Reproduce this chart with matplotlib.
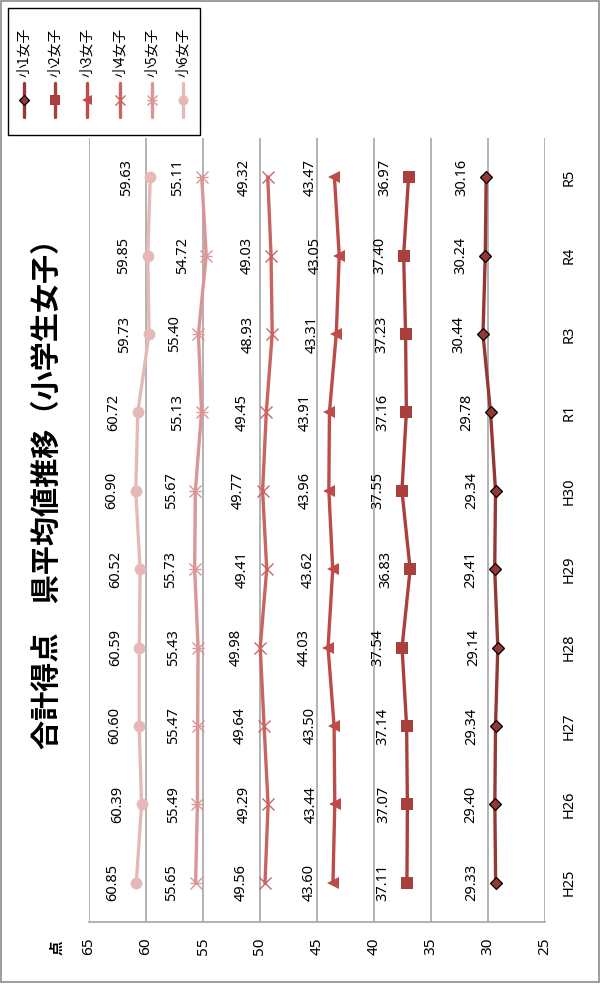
import matplotlib
matplotlib.use("Agg")
import matplotlib.pyplot as plt
from matplotlib.patches import Rectangle
from matplotlib.lines import Line2D

plt.rcParams['font.family'] = ['Noto Sans CJK JP', 'DejaVu Sans']
LATIN = ['Noto Sans', 'DejaVu Sans']

categories = ["H25", "H26", "H27", "H28", "H29", "H30", "R1", "R3", "R4", "R5"]
series_names = ["小1女子", "小2女子", "小3女子", "小4女子", "小5女子", "小6女子"]
s1 = [29.33, 29.40, 29.34, 29.14, 29.41, 29.34, 29.78, 30.44, 30.24, 30.16]
s2 = [37.11, 37.07, 37.14, 37.54, 36.83, 37.55, 37.16, 37.23, 37.40, 36.97]
s3 = [43.60, 43.44, 43.50, 44.03, 43.62, 43.96, 43.91, 43.31, 43.05, 43.47]
s4 = [49.56, 49.29, 49.64, 49.98, 49.41, 49.77, 49.45, 48.93, 49.03, 49.32]
s5 = [55.65, 55.49, 55.47, 55.43, 55.73, 55.67, 55.13, 55.40, 54.72, 55.11]
s6 = [60.85, 60.39, 60.60, 60.59, 60.52, 60.90, 60.72, 59.73, 59.85, 59.63]
value_ticks = [25, 30, 35, 40, 45, 50, 55, 60, 65]
title = "合計得点　県平均値推移（小学生女子）"
unit_label = "点"

all_series = [s1, s2, s3, s4, s5, s6]
colors = ["#953735", "#A9403E", "#BE4B48", "#C96462", "#D99694", "#E6B9B8"]
styles = [
    dict(marker="D", ms=6.5, mec="black", mew=0.9),
    dict(marker="s", ms=8, mew=0),
    dict(marker="<", ms=8.5, mew=0),
    dict(marker="x", ms=8, mew=1.0),
    dict(marker="x", ms=8, mew=1.0),
    dict(marker="o", ms=8.5, mew=0),
]

W, H = 601, 985
fig = plt.figure(figsize=(W / 100, H / 100), dpi=100)

def fx(px):
    return px / W

def fy(py):
    return 1 - py / H

# outer border
fig.patches.append(Rectangle((fx(1), fy(982)), fx(598), 981 / H, transform=fig.transFigure,
                             fill=False, edgecolor="#8C8C8C", lw=1.2))

ax = fig.add_axes([fx(89), fy(922), fx(545 - 89), (922 - 138) / H])
positions = list(range(len(categories)))

for vals, col, st in zip(all_series, colors, styles):
    kw = dict(st)
    if "mec" not in kw:
        kw["mec"] = col
    ax.plot(vals, positions, color=col, lw=2.4, mfc=col, zorder=3, **kw)
    for v, p in zip(vals, positions):
        ax.annotate(f"{v:.2f}", xy=(v, p), xytext=(-24, 0), textcoords="offset pixels",
                    rotation=90, ha="center", va="center", fontsize=10.5, color="black",
                    family=LATIN)
# extra bar for 5th series star marker
ax.plot(s5, positions, ls="none", marker="_", ms=9, mew=1.0, color=colors[4], zorder=3)

ax.set_xlim(65, 25)
ax.set_ylim(-0.5, len(categories) - 0.5)
ax.set_xticks(value_ticks)
ax.set_xticklabels([str(t) for t in value_ticks], rotation=90, fontsize=11, family=LATIN)
ax.tick_params(axis="x", length=0, pad=11)
ax.set_yticks(positions)
ax.set_yticklabels(categories, rotation=90, fontsize=10.5, va="center", family=LATIN)
ax.yaxis.tick_right()
ax.tick_params(axis="y", length=0, pad=12)
ax.grid(axis="x", color="#A6A6A6", lw=1.2)
ax.set_axisbelow(True)
for side in ["top", "left", "right"]:
    ax.spines[side].set_visible(False)
ax.spines["bottom"].set_color("#A6A6A6")
ax.spines["bottom"].set_linewidth(1.2)

fig.text(fx(56), fy(948), unit_label, rotation=90, ha="center", va="center",
         fontsize=10.5, fontweight="bold")
fig.text(fx(47), fy(487), title, rotation=90, ha="center", va="center",
         fontsize=21, fontweight="bold")

# legend (manual, rotated)
fig.patches.append(Rectangle((fx(8), fy(135)), fx(192), 127 / H, transform=fig.transFigure,
                             fill=False, edgecolor="black", lw=1.0))
leg_x = [24, 55, 87, 120, 152, 183]
for name, lx, col, st, k in zip(series_names, leg_x, colors, styles, range(6)):
    fig.lines.append(Line2D([fx(lx), fx(lx)], [fy(117), fy(83)], transform=fig.transFigure,
                            color=col, lw=2.4, solid_capstyle="round"))
    kw = dict(st)
    if "mec" not in kw:
        kw["mec"] = col
    ms = kw.pop("ms")
    fig.lines.append(Line2D([fx(lx)], [fy(100)], transform=fig.transFigure, color=col,
                            mfc=col, ms=ms * 0.85, ls="none", **kw))
    if k == 4:
        fig.lines.append(Line2D([fx(lx)], [fy(100)], transform=fig.transFigure, color=col,
                                marker="_", ms=ms * 0.85, mew=1.0, ls="none"))
    fig.text(fx(lx), fy(52), name, rotation=90, ha="center", va="center", fontsize=10)

fig.savefig("out.png", dpi=100)
